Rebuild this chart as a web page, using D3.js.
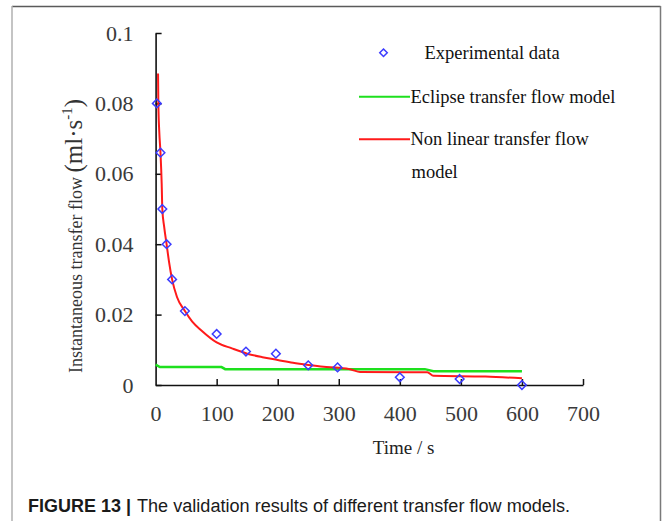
<!DOCTYPE html>
<html>
<head>
<meta charset="utf-8">
<script src="https://cdn.jsdelivr.net/npm/d3@7"></script>
<style>
  body { margin: 0; background: #fff; }
  svg { display: block; }
</style>
</head>
<body>
<div id="chart"></div>
<script>
//Experimental data (time in s, flow in ml/s)
var expTime = [2, 8, 11, 18, 27, 48, 100, 148, 197, 250, 298, 400, 498, 600];
var expFlow = [0.080, 0.066, 0.050, 0.040, 0.030, 0.021, 0.0145, 0.0095, 0.0089, 0.0056, 0.0050, 0.0022, 0.0017, 0.0];

//Eclipse transfer flow model
var eclipseTime = [0, 7, 108, 114, 441, 455, 600];
var eclipseFlow = [0.0058, 0.0051, 0.0051, 0.0045, 0.0045, 0.0039, 0.0039];

//Non linear transfer flow model
var nonlinTime = [4, 4.5, 6, 8, 10, 11, 14, 18, 22, 27, 35, 48, 60, 75, 100, 125, 150, 175, 200, 225, 250, 275, 300, 320, 335, 445, 455, 540, 600];
var nonlinFlow = [0.0885, 0.080, 0.072, 0.066, 0.057, 0.050, 0.045, 0.040, 0.035, 0.030, 0.025, 0.021, 0.018, 0.0155, 0.0121, 0.0104, 0.0089, 0.0079, 0.0071, 0.0063, 0.0057, 0.0052, 0.0049, 0.0044, 0.0037, 0.0036, 0.0026, 0.0024, 0.0019];

//Tick values and labels
var xTicks = [0, 100, 200, 300, 400, 500, 600, 700];
var yTicks = [0, 0.02, 0.04, 0.06, 0.08, 0.1];
var yTickLabels = ["0", "0.02", "0.04", "0.06", "0.08", "0.1"];

//SVG size
var svgWidth = 664;
var svgHeight = 521;

//Plot area in page pixels
var plot = { left: 155.6, right: 583, top: 33, bottom: 385 };

var svg = d3.select("#chart")
  .append("svg")
  .attr("width", svgWidth)
  .attr("height", svgHeight);

//Figure frame
svg.append("line").attr("x1", 12).attr("x2", 660.5).attr("y1", 6.5).attr("y2", 6.5)
  .attr("stroke", "#5a5a5a").attr("stroke-width", 1.5);
svg.append("line").attr("x1", 12).attr("x2", 12).attr("y1", 6).attr("y2", svgHeight)
  .attr("stroke", "#b0b0b0").attr("stroke-width", 1.5);
svg.append("line").attr("x1", 660.5).attr("x2", 660.5).attr("y1", 6).attr("y2", svgHeight)
  .attr("stroke", "#7a7a7a").attr("stroke-width", 1.5);

//Scales
var xScale = d3.scaleLinear().domain([0, 700]).range([plot.left, plot.right]);
var yScale = d3.scaleLinear().domain([0, 0.1]).range([plot.bottom, plot.top]);

//Axes (ticks point inward)
var bottomAxis = d3.axisBottom(xScale)
  .tickValues(xTicks)
  .tickSizeInner(-6)
  .tickSizeOuter(0)
  .tickPadding(20)
  .tickFormat(d3.format("d"));

var leftAxis = d3.axisLeft(yScale)
  .tickValues(yTicks)
  .tickSizeInner(-6)
  .tickSizeOuter(0)
  .tickPadding(22)
  .tickFormat(function(d, i) { return yTickLabels[i]; });

var xAxisG = svg.append("g")
  .attr("transform", `translate(0, ${plot.bottom})`)
  .call(bottomAxis);

var yAxisG = svg.append("g")
  .attr("transform", `translate(${plot.left}, 0)`)
  .call(leftAxis);

[xAxisG, yAxisG].forEach(function(g) {
  g.select(".domain").attr("stroke", "#111").attr("stroke-width", 1.6);
  g.selectAll(".tick line").attr("stroke", "#111").attr("stroke-width", 1.5);
  g.selectAll(".tick text")
    .attr("fill", "#3a3a3a")
    .style("font-family", "'Liberation Serif', 'Times New Roman', serif")
    .style("font-size", "22px");
});
//no tick mark at the origin on the x axis
xAxisG.selectAll(".tick").filter(function(d) { return d === 0; }).select("line").remove();

//Line generator
var line = d3.line()
  .x(function(d) { return xScale(d[0]); })
  .y(function(d) { return yScale(d[1]); });

var eclipseData = eclipseTime.map(function(t, i) { return [t, eclipseFlow[i]]; });
var nonlinData = nonlinTime.map(function(t, i) { return [t, nonlinFlow[i]]; });
var expData = expTime.map(function(t, i) { return [t, expFlow[i]]; });

svg.append("path")
  .datum(eclipseData)
  .attr("d", line)
  .attr("fill", "none")
  .attr("stroke", "#1ee01e")
  .attr("stroke-width", 2.5);

svg.append("path")
  .datum(nonlinData)
  .attr("d", line.curve(d3.curveMonotoneX))
  .attr("fill", "none")
  .attr("stroke", "#ff1a1a")
  .attr("stroke-width", 2);

//Diamond markers
var diamond = d3.symbol().type(d3.symbolDiamond2).size(48);

svg.selectAll(".exp")
  .data(expData)
  .enter()
  .append("path")
  .attr("class", "exp")
  .attr("d", diamond)
  .attr("transform", function(d) { return `translate(${xScale(d[0])}, ${yScale(d[1])})`; })
  .attr("fill", "none")
  .attr("stroke", "#3c3cff")
  .attr("stroke-width", 1.5);

//Legend
var serif = "'Liberation Serif', 'Times New Roman', serif";
var legend = svg.append("g").style("font-family", serif).style("font-size", "18.5px").attr("fill", "#111");

legend.append("path")
  .attr("d", d3.symbol().type(d3.symbolDiamond2).size(36))
  .attr("transform", "translate(383.5, 52.7)")
  .attr("fill", "none")
  .attr("stroke", "#3c3cff")
  .attr("stroke-width", 1.5);
legend.append("text").attr("x", 424.5).attr("y", 52.7).attr("dy", "0.33em").text("Experimental data");

legend.append("line").attr("x1", 359).attr("x2", 410).attr("y1", 96.7).attr("y2", 96.7)
  .attr("stroke", "#1ee01e").attr("stroke-width", 2);
legend.append("text").attr("x", 410.5).attr("y", 96.7).attr("dy", "0.33em").text("Eclipse transfer flow model");

legend.append("line").attr("x1", 359).attr("x2", 410).attr("y1", 139.3).attr("y2", 139.3)
  .attr("stroke", "#ff1a1a").attr("stroke-width", 2);
legend.append("text").attr("x", 410.5).attr("y", 139.3).attr("dy", "0.33em").text("Non linear transfer flow");
legend.append("text").attr("x", 411.5).attr("y", 171.7).attr("dy", "0.33em").text("model");

//Axis titles
svg.append("text")
  .attr("x", 403.6)
  .attr("y", 448)
  .attr("dy", "0.33em")
  .attr("text-anchor", "middle")
  .attr("fill", "#222")
  .style("font-family", serif)
  .style("font-size", "19px")
  .text("Time / s");

var yTitle = svg.append("text")
  .attr("transform", "translate(82, 373) rotate(-90)")
  .attr("fill", "#333")
  .style("font-family", serif);
yTitle.append("tspan").style("font-size", "18px").text("Instantaneous transfer flow ");
yTitle.append("tspan").style("font-size", "25px").text("(ml·s");
yTitle.append("tspan").style("font-size", "15px").attr("dy", -10).text("-1");
yTitle.append("tspan").style("font-size", "25px").attr("dy", 10).text(")");

//Caption
var caption = svg.append("g")
  .style("font-family", "'Liberation Sans', Arial, sans-serif")
  .style("font-size", "18px")
  .attr("fill", "#1a1a1a");
caption.append("text")
  .attr("x", 28).attr("y", 512)
  .attr("font-weight", "bold")
  .attr("textLength", 103)
  .attr("lengthAdjust", "spacingAndGlyphs")
  .text("FIGURE 13 |");
caption.append("text")
  .attr("x", 137).attr("y", 512)
  .attr("textLength", 433)
  .attr("lengthAdjust", "spacingAndGlyphs")
  .text("The validation results of different transfer flow models.");
</script>
</body>
</html>
